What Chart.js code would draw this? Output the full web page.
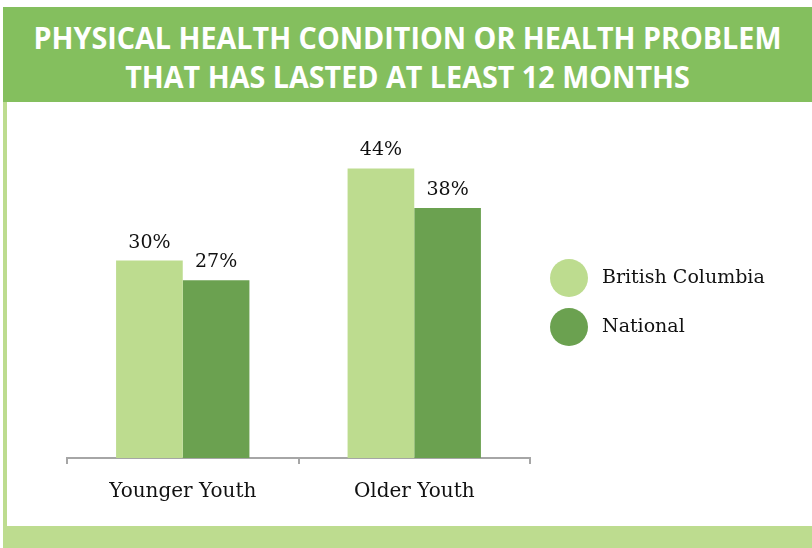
<!DOCTYPE html>
<html>
<head>
<meta charset="utf-8">
<script src="https://cdn.jsdelivr.net/npm/chart.js@4/dist/chart.umd.min.js"></script>
<style>
  html, body { margin: 0; padding: 0; background: #fff; }
  #page { position: relative; width: 812px; height: 548px; overflow: hidden; }
  #header {
    position: absolute; left: 3px; top: 7px; width: 809px; height: 95px;
    background: #84bf5e; color: #fff; text-align: center;
    font-family: "Open Sans", sans-serif; font-weight: 700; font-size: 31px;
    line-height: 39px;
  }
  #header div { white-space: nowrap; transform: scaleX(0.926); }
  #header .l1 { margin-top: 11px; }
  #sideline { position: absolute; left: 3px; top: 102px; width: 4px; height: 424px; background: #bddc8f; }
  #footer { position: absolute; left: 3px; top: 526px; width: 809px; height: 22px; background: #bddc8f; }
  canvas { position: absolute; left: 0; top: 0; }
</style>
</head>
<body>
<div id="page">
  <div id="header">
    <div class="l1">PHYSICAL HEALTH CONDITION OR HEALTH PROBLEM</div>
    <div>THAT HAS LASTED AT LEAST 12 MONTHS</div>
  </div>
  <div id="sideline"></div>
  <div id="footer"></div>
  <canvas id="chart" width="812" height="548"></canvas>
</div>
<script>
const categories = ['Younger Youth', 'Older Youth'];
const seriesNames = ['British Columbia', 'National'];
const bcValues = [30, 44];
const nationalValues = [27, 38];
const seriesColors = ['#bddc8f', '#6ba150'];

const serif = '"DejaVu Serif", serif';

// percentage text above each bar
const valueLabels = {
  id: 'valueLabels',
  afterDatasetsDraw(chart) {
    const ctx = chart.ctx;
    ctx.save();
    ctx.font = '19px ' + serif;
    ctx.fillStyle = '#111';
    ctx.textAlign = 'center';
    ctx.textBaseline = 'alphabetic';
    chart.data.datasets.forEach((ds, i) => {
      chart.getDatasetMeta(i).data.forEach((bar, j) => {
        ctx.fillText(ds.data[j] + '%', bar.x, bar.y - 13);
      });
    });
    ctx.restore();
  }
};

// round swatches to the right of the plot
const sideLegend = {
  id: 'sideLegend',
  afterDraw(chart) {
    const ctx = chart.ctx;
    ctx.save();
    ctx.font = '19px ' + serif;
    ctx.textBaseline = 'middle';
    chart.data.datasets.forEach((ds, i) => {
      const y = 278 + i * 49;
      ctx.fillStyle = ds.backgroundColor;
      ctx.beginPath();
      ctx.arc(569, y, 19, 0, Math.PI * 2);
      ctx.fill();
      ctx.fillStyle = '#111';
      ctx.fillText(ds.label, 602, y);
    });
    ctx.restore();
  }
};

new Chart(document.getElementById('chart'), {
  type: 'bar',
  data: {
    labels: categories,
    datasets: [
      { label: seriesNames[0], data: bcValues, backgroundColor: seriesColors[0] },
      { label: seriesNames[1], data: nationalValues, backgroundColor: seriesColors[1] }
    ]
  },
  options: {
    responsive: false,
    animation: false,
    layout: { padding: { left: 67, right: 282, top: 129, bottom: 0 } },
    datasets: { bar: { barPercentage: 1, categoryPercentage: 0.576 } },
    plugins: { legend: { display: false }, tooltip: { enabled: false } },
    scales: {
      x: {
        afterFit: s => { s.height = 90; },
        border: { display: true, color: '#a6a6a6', width: 2 },
        grid: { offset: true, drawOnChartArea: false, drawTicks: true, tickLength: 6, color: '#a6a6a6', lineWidth: 2 },
        ticks: { color: '#111', padding: 16, font: { family: serif, size: 20 } }
      },
      y: { display: false, min: 0, max: 50 }
    }
  },
  plugins: [valueLabels, sideLegend]
});
</script>
</body>
</html>
